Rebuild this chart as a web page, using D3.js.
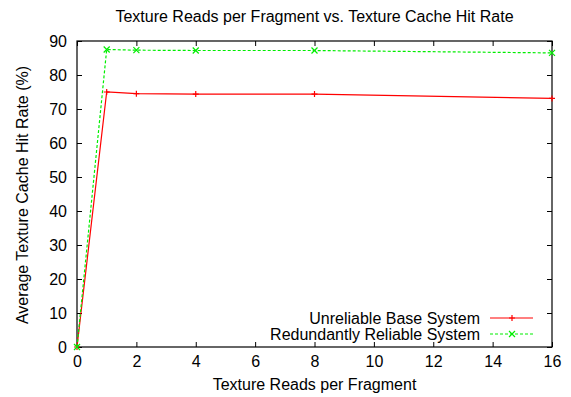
<!DOCTYPE html>
<html>
<head>
<meta charset="utf-8">
<script src="https://cdn.jsdelivr.net/npm/d3@7"></script>
<style>
  body { margin: 0; background: #fff; }
  text { font-family: "Liberation Sans", Arial, sans-serif; fill: #000; }
</style>
</head>
<body>
<svg width="571" height="397"></svg>
<script>
const reads = [0, 1, 2, 4, 8, 16];
const unreliable = [0, 75, 74.5, 74.4, 74.4, 73.1];
const redundant = [0, 87.5, 87.3, 87.2, 87.2, 86.5];
const xTicks = [0, 2, 4, 6, 8, 10, 12, 14, 16];
const yTicks = [0, 10, 20, 30, 40, 50, 60, 70, 80, 90];

const svg = d3.select("svg");
const margin = { top: 41, right: 19, bottom: 50, left: 77 };
const width = 571, height = 397;
const innerWidth = width - margin.left - margin.right;
const innerHeight = height - margin.top - margin.bottom;
const fs = 16;

const x = d3.scaleLinear().domain([0, 16]).range([0, innerWidth]);
const y = d3.scaleLinear().domain([0, 90]).range([innerHeight, 0]);

const g = svg.append("g").attr("transform", `translate(${margin.left}, ${margin.top})`);

// ticks on all four sides, pointing in
g.append("g").attr("transform", `translate(0, ${innerHeight})`)
  .call(d3.axisBottom(x).tickValues(xTicks).tickSizeInner(-5).tickSizeOuter(0).tickPadding(9))
  .call(a => a.select(".domain").remove());
g.append("g")
  .call(d3.axisTop(x).tickValues(xTicks).tickSizeInner(-5).tickSizeOuter(0))
  .call(a => a.select(".domain").remove())
  .call(a => a.selectAll("text").remove());
g.append("g")
  .call(d3.axisLeft(y).tickValues(yTicks).tickSizeInner(-5).tickSizeOuter(0).tickPadding(10))
  .call(a => a.select(".domain").remove());
g.append("g").attr("transform", `translate(${innerWidth}, 0)`)
  .call(d3.axisRight(y).tickValues(yTicks).tickSizeInner(-5).tickSizeOuter(0))
  .call(a => a.select(".domain").remove())
  .call(a => a.selectAll("text").remove());

g.selectAll(".tick text").attr("font-size", fs).attr("font-family", "Liberation Sans, Arial, sans-serif");
g.selectAll(".tick line").attr("stroke", "#000");

g.append("rect")
  .attr("width", innerWidth).attr("height", innerHeight)
  .attr("fill", "none").attr("stroke", "#000").attr("stroke-width", 1.2);

const series = [
  { name: "Unreliable Base System", values: unreliable, color: "#ff0000", dash: null, mark: "plus" },
  { name: "Redundantly Reliable System", values: redundant, color: "#00ee00", dash: "3,2", mark: "cross" }
];

const line = d3.line().x(d => x(d[0])).y(d => y(d[1]));

function marker(sel, mark, color) {
  const s = 3;
  sel.append("path")
    .attr("d", mark === "plus"
      ? `M${-s},0H${s}M0,${-s}V${s}`
      : `M${-s},${-s}L${s},${s}M${-s},${s}L${s},${-s}`)
    .attr("stroke", color).attr("stroke-width", 1.2).attr("fill", "none");
}

series.forEach(s => {
  const pts = reads.map((r, i) => [r, s.values[i]]);
  g.append("path")
    .datum(pts)
    .attr("d", line)
    .attr("fill", "none")
    .attr("stroke", s.color)
    .attr("stroke-width", 1.2)
    .attr("stroke-dasharray", s.dash);
  pts.forEach(p => {
    const m = g.append("g").attr("transform", `translate(${x(p[0])}, ${y(p[1])})`);
    marker(m, s.mark, s.color);
  });
});

// legend
const legend = g.append("g").attr("transform", `translate(${innerWidth - 72}, ${innerHeight - 29})`);
series.forEach((s, i) => {
  const row = legend.append("g").attr("transform", `translate(0, ${i * 16})`);
  row.append("text").attr("x", 0).attr("y", 0).attr("dy", "0.35em")
    .attr("text-anchor", "end").attr("font-size", fs).text(s.name);
  row.append("line").attr("x1", 10).attr("x2", 53).attr("y1", 0).attr("y2", 0)
    .attr("stroke", s.color).attr("stroke-width", 1.2).attr("stroke-dasharray", s.dash);
  const m = row.append("g").attr("transform", "translate(32, 0)");
  marker(m, s.mark, s.color);
});

svg.append("text")
  .attr("x", margin.left + innerWidth / 2).attr("y", 22)
  .attr("text-anchor", "middle").attr("font-size", fs)
  .text("Texture Reads per Fragment vs. Texture Cache Hit Rate");

svg.append("text")
  .attr("x", margin.left + innerWidth / 2).attr("y", 390)
  .attr("text-anchor", "middle").attr("font-size", fs)
  .text("Texture Reads per Fragment");

svg.append("text")
  .attr("transform", `translate(28, ${margin.top + innerHeight / 2 + 1}) rotate(-90)`)
  .attr("text-anchor", "middle").attr("font-size", fs)
  .text("Average Texture Cache Hit Rate (%)");
</script>
</body>
</html>
